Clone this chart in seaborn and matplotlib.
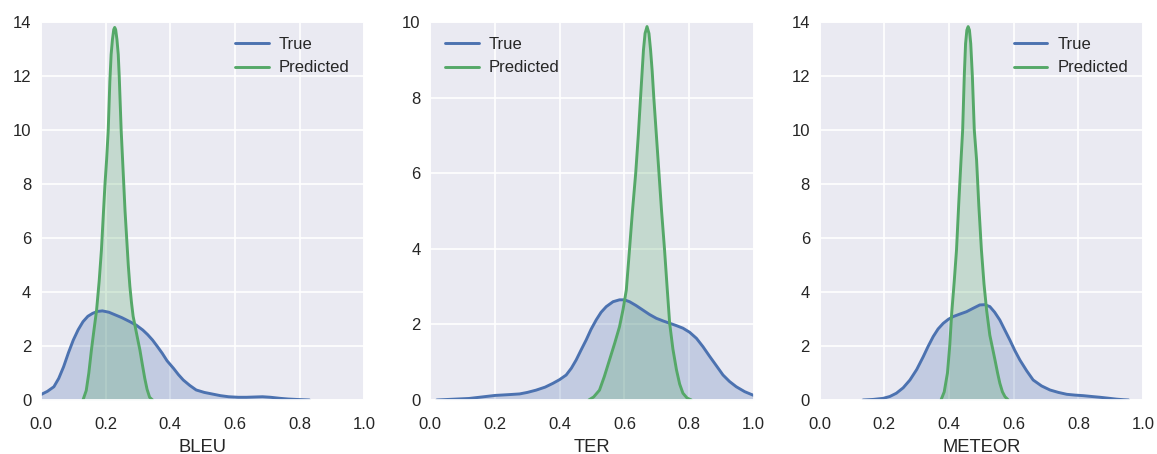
import matplotlib
matplotlib.use("Agg")
import matplotlib.pyplot as plt
import seaborn as sns

# ---- data (density curves) ----
bleu_true_x = [0.0, 0.02, 0.04, 0.055, 0.07, 0.085, 0.10, 0.115, 0.13, 0.145, 0.16, 0.175, 0.19, 0.21, 0.23, 0.25,
               0.275, 0.295, 0.315, 0.33, 0.345, 0.36, 0.375, 0.39, 0.41, 0.425, 0.44, 0.46, 0.48, 0.505, 0.53,
               0.555, 0.58, 0.61, 0.635, 0.66, 0.685, 0.71, 0.74, 0.765, 0.79, 0.81, 0.83]
bleu_true_y = [0.2, 0.32, 0.49, 0.8, 1.23, 1.75, 2.22, 2.6, 2.9, 3.1, 3.21, 3.28, 3.3, 3.25, 3.15, 3.05,
               2.9, 2.77, 2.59, 2.42, 2.22, 1.98, 1.73, 1.45, 1.17, 0.94, 0.74, 0.54, 0.37, 0.28, 0.22,
               0.16, 0.12, 0.1, 0.1, 0.11, 0.12, 0.1, 0.06, 0.035, 0.02, 0.01, 0.0]
bleu_pred_x = [0.13, 0.14, 0.148, 0.156, 0.164, 0.172, 0.18, 0.187, 0.193, 0.198, 0.203, 0.208, 0.213, 0.217,
               0.221, 0.225, 0.228, 0.231, 0.235, 0.239, 0.242, 0.245, 0.248, 0.252, 0.256, 0.26, 0.265,
               0.27, 0.275, 0.28, 0.285, 0.29, 0.295, 0.3, 0.306, 0.313, 0.321, 0.328, 0.336, 0.345]
bleu_pred_y = [0.0, 0.35, 1.0, 1.85, 2.6, 3.33, 4.4, 5.56, 6.9, 8.0, 8.9, 10.0, 11.8, 12.8,
               13.35, 13.72, 13.8, 13.72, 13.35, 12.8, 12.0, 11.0, 10.0, 9.0, 8.0, 7.0, 6.0,
               5.0, 4.2, 3.6, 3.1, 2.8, 2.5, 2.2, 1.85, 1.35, 0.8, 0.4, 0.1, 0.0]

ter_true_x = [0.02, 0.07, 0.12, 0.16, 0.2, 0.24, 0.276, 0.3, 0.327, 0.355, 0.379, 0.4, 0.42, 0.436, 0.451,
              0.466, 0.482, 0.497, 0.513, 0.528, 0.544, 0.565, 0.585, 0.6, 0.616, 0.636, 0.657, 0.678,
              0.699, 0.72, 0.74, 0.76, 0.781, 0.802, 0.823, 0.843, 0.864, 0.885, 0.905, 0.925, 0.946,
              0.972, 1.0]
ter_true_y = [0.0, 0.02, 0.04, 0.08, 0.12, 0.14, 0.16, 0.2, 0.26, 0.34, 0.44, 0.54, 0.66, 0.84, 1.06,
              1.32, 1.59, 1.87, 2.12, 2.32, 2.47, 2.6, 2.65, 2.65, 2.6, 2.5, 2.38, 2.26,
              2.16, 2.09, 2.03, 1.97, 1.9, 1.79, 1.63, 1.41, 1.15, 0.9, 0.66, 0.49, 0.35,
              0.22, 0.12]
ter_pred_x = [0.49, 0.505, 0.523, 0.538, 0.554, 0.57, 0.585, 0.596, 0.606, 0.616, 0.625, 0.635, 0.643, 0.65,
              0.655, 0.659, 0.664, 0.67, 0.676, 0.681, 0.686, 0.691, 0.699, 0.707, 0.715, 0.724, 0.732,
              0.74, 0.75, 0.761, 0.771, 0.781, 0.794, 0.807]
ter_pred_y = [0.0, 0.08, 0.26, 0.62, 1.06, 1.5, 1.94, 2.4, 2.91, 4.0, 5.0, 6.0, 7.0, 8.0,
              8.7, 9.26, 9.7, 9.88, 9.7, 9.26, 8.7, 8.0, 7.0, 6.0, 5.0, 4.0, 3.0,
              2.03, 1.35, 0.8, 0.42, 0.18, 0.05, 0.0]

meteor_true_x = [0.134, 0.165, 0.196, 0.217, 0.237, 0.258, 0.279, 0.3, 0.32, 0.335, 0.351, 0.366, 0.382,
                 0.398, 0.413, 0.433, 0.454, 0.475, 0.495, 0.51, 0.526, 0.541, 0.557, 0.572, 0.588,
                 0.603, 0.619, 0.64, 0.66, 0.686, 0.712, 0.738, 0.764, 0.79, 0.815, 0.84, 0.867, 0.893,
                 0.918, 0.94, 0.955]
meteor_true_y = [0.0, 0.02, 0.06, 0.13, 0.25, 0.45, 0.74, 1.13, 1.6, 1.98, 2.35, 2.63, 2.84,
                 2.99, 3.09, 3.18, 3.27, 3.4, 3.52, 3.53, 3.46, 3.25, 2.96, 2.6, 2.22,
                 1.84, 1.48, 1.08, 0.74, 0.52, 0.37, 0.28, 0.21, 0.18, 0.16, 0.13, 0.1, 0.065,
                 0.03, 0.01, 0.0]
meteor_pred_x = [0.375, 0.385, 0.395, 0.402, 0.408, 0.416, 0.423, 0.43, 0.437, 0.442, 0.447, 0.451, 0.455,
                 0.459, 0.463, 0.467, 0.472, 0.478, 0.485, 0.492, 0.5, 0.508, 0.516, 0.526, 0.533,
                 0.542, 0.55, 0.557, 0.565, 0.573, 0.583]
meteor_pred_y = [0.0, 0.3, 1.0, 2.0, 3.2, 4.4, 5.56, 7.3, 8.9, 10.0, 12.0, 13.2, 13.7,
                 13.83, 13.7, 13.2, 12.0, 10.0, 8.9, 7.2, 5.56, 4.3, 3.33, 2.4, 2.0,
                 1.48, 1.0, 0.62, 0.3, 0.12, 0.0]

metric_names = ["BLEU", "TER", "METEOR"]
series_labels = ["True", "Predicted"]
y_limits = [14, 10, 14]
legend_locs = ["upper right", "upper left", "upper right"]

# ---- styling ----
sns.set_theme(style="darkgrid")
plt.rcParams["font.family"] = ["Liberation Sans", "DejaVu Sans"]
plt.rcParams["text.color"] = ".15"
plt.rcParams["xtick.color"] = ".15"
plt.rcParams["ytick.color"] = ".15"
plt.rcParams["axes.labelcolor"] = ".15"

blue = "#4C72B0"
green = "#55A868"

fig, axes = plt.subplots(1, 3, figsize=(11.57, 4.54), dpi=100)
fig.subplots_adjust(left=0.0354, right=0.988, bottom=0.119, top=0.9515, wspace=0.204)

data = [
    (bleu_true_x, bleu_true_y, bleu_pred_x, bleu_pred_y),
    (ter_true_x, ter_true_y, ter_pred_x, ter_pred_y),
    (meteor_true_x, meteor_true_y, meteor_pred_x, meteor_pred_y),
]

for ax, (tx, ty, px, py), name, ymax, loc in zip(axes, data, metric_names, y_limits, legend_locs):
    for xs, ys, col, lab in [(tx, ty, blue, series_labels[0]), (px, py, green, series_labels[1])]:
        ax.fill_between(xs, ys, 0, color=col, alpha=0.25, linewidth=0)
        sns.lineplot(x=xs, y=ys, ax=ax, color=col, linewidth=2.1, label=lab, sort=False)
    ax.set_xlim(0, 1)
    ax.set_ylim(0, ymax)
    ax.set_xticks([0.0, 0.2, 0.4, 0.6, 0.8, 1.0])
    ax.set_xticklabels(["0.0", "0.2", "0.4", "0.6", "0.8", "1.0"])
    ax.set_yticks(list(range(0, ymax + 1, 2)))
    ax.tick_params(axis="both", labelsize=12, length=0)
    ax.tick_params(axis="y", pad=7)
    ax.tick_params(axis="x", pad=12)
    ax.set_xlabel(name, fontsize=13.2, labelpad=5)
    ax.set_ylabel("")
    ax.grid(True, color="white", linewidth=1.2)
    ax.legend(loc=loc, frameon=False, fontsize=12, handlelength=2.0, handletextpad=0.6)

fig.savefig("out.png", dpi=100)
